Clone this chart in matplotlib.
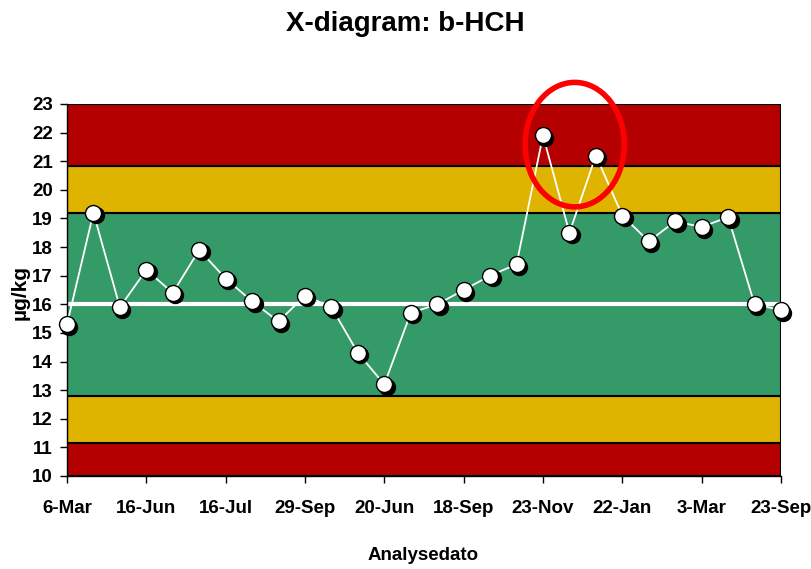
import matplotlib
matplotlib.use("Agg")
import matplotlib.pyplot as plt
import matplotlib.transforms as mtransforms
from matplotlib.patches import Ellipse, Rectangle
import numpy as np

plt.rcParams['font.family'] = ['Liberation Sans', 'DejaVu Sans']
plt.rcParams['font.weight'] = 'bold'

title = "X-diagram: b-HCH"
x_label = "Analysedato"
y_label = "µg/kg"

values = [15.3, 19.2, 15.9, 17.2, 16.4, 17.9, 16.9, 16.1, 15.4, 16.3,
          15.9, 14.3, 13.2, 15.7, 16.0, 16.5, 17.0, 17.4, 21.9, 18.5,
          21.2, 19.1, 18.2, 18.9, 18.7, 19.05, 16.0, 15.8]
tick_labels = ["6-Mar", "16-Jun", "16-Jul", "29-Sep", "20-Jun",
               "18-Sep", "23-Nov", "22-Jan", "3-Mar", "23-Sep"]
mean_value = 16.0
band_edges = [10, 11.17, 12.78, 19.2, 20.82, 23]
band_colors = ["#B40000", "#DEB400", "#349A68", "#DEB400", "#B40000"]

fig = plt.figure(figsize=(8.12, 5.69), dpi=100)
ax = fig.add_axes([67/812, 1-476/569, (781-67)/812, (476-104)/569])

n = len(values)
x = np.arange(n)
ax.set_xlim(0, n - 1)
ax.set_ylim(10, 23)

for lo, hi, c in zip(band_edges[:-1], band_edges[1:], band_colors):
    ax.add_patch(Rectangle((0, lo), n - 1, hi - lo, facecolor=c,
                           edgecolor='black', linewidth=1.5, zorder=1))

ax.axhline(mean_value, color='white', linewidth=3, zorder=2)
ax.plot(x, values, color='white', linewidth=1.3, zorder=3, clip_on=False)

shadow = mtransforms.offset_copy(ax.transData, fig=fig, x=2.5, y=-2.5, units='dots')
ax.plot(x, values, linestyle='none', marker='o', markersize=11.5,
        markerfacecolor='black', markeredgecolor='black', transform=shadow,
        zorder=4, clip_on=False)
ax.plot(x, values, linestyle='none', marker='o', markersize=11.5,
        markerfacecolor='white', markeredgecolor='black', markeredgewidth=1.0,
        zorder=5, clip_on=False)

ax.add_patch(Ellipse((19.2, 21.58), 3.75, 4.35, fill=False, edgecolor='#FF0000',
                     linewidth=4, zorder=6, clip_on=False))

ax.set_xticks(np.arange(0, n, 3))
ax.set_xticklabels(tick_labels)
ax.set_yticks(np.arange(10, 24, 1))
ax.tick_params(axis='both', direction='out', length=5, width=1, colors='black',
               labelsize=13.5)
ax.tick_params(axis='x', pad=12)
ax.tick_params(axis='y', pad=5)
for lab in ax.get_xticklabels() + ax.get_yticklabels():
    lab.set_fontweight('bold')

for s in ['top', 'right']:
    ax.spines[s].set_visible(False)
ax.spines['left'].set_linewidth(1)
ax.spines['bottom'].set_linewidth(1)

fig.text(20/812, 1 - 292/569, y_label, rotation=90, ha='center', va='center',
         fontsize=15, fontweight='bold')
fig.text(423/812, 1 - 555/569, x_label, ha='center', va='center',
         fontsize=13.5, fontweight='bold')
fig.text(405/812, 1 - 24/569, title, ha='center', va='center',
         fontsize=20, fontweight='bold')

fig.savefig("out.png", dpi=100)
